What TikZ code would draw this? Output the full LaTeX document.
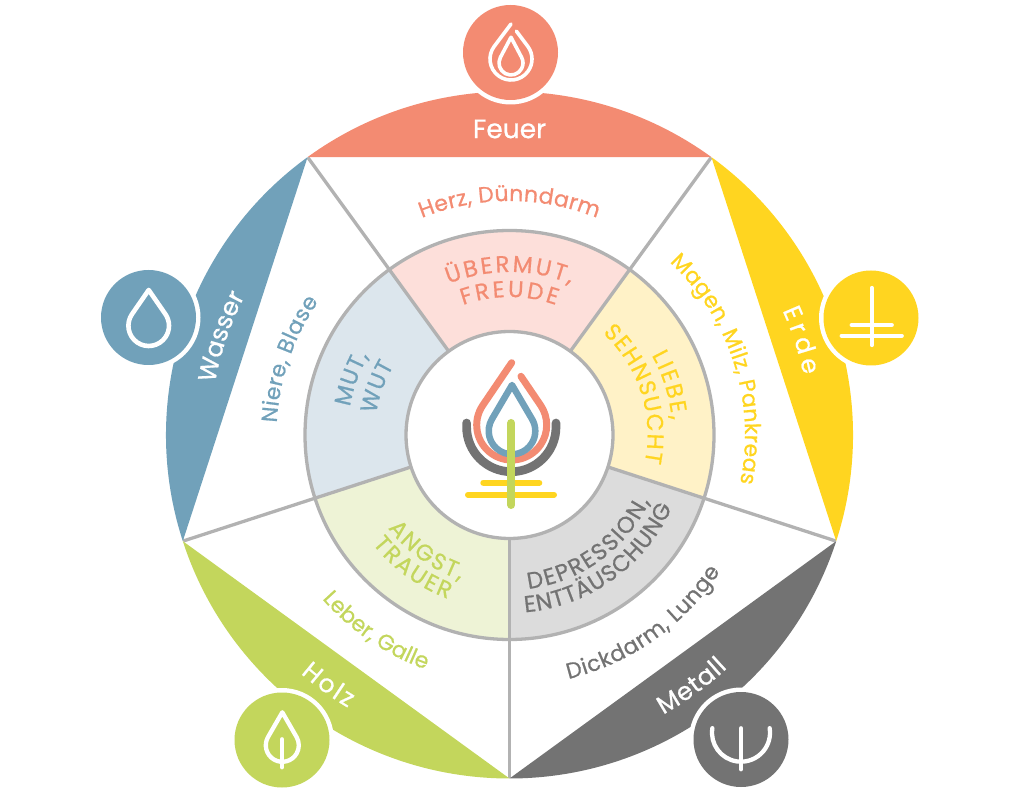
\documentclass[tikz,border=0pt]{standalone}
\usepackage{fontspec}
\setmainfont{Poppins}[FakeBold=0.7]
\usetikzlibrary{decorations.text,calc}
\definecolor{feuerc}{HTML}{F38B72}
\definecolor{erdec}{HTML}{FFD520}
\definecolor{metallc}{HTML}{737373}
\definecolor{holzc}{HTML}{C3D65C}
\definecolor{wasserc}{HTML}{71A1BA}
\definecolor{feuerl}{HTML}{FDDFDA}
\definecolor{erdel}{HTML}{FFF2C7}
\definecolor{metalll}{HTML}{DCDCDC}
\definecolor{holzl}{HTML}{EEF3D6}
\definecolor{wasserl}{HTML}{DCE6ED}
\definecolor{linec}{HTML}{B2B2B2}
% #1 colour, #2 size, #3 radius, #4 start, #5 end, #6 text
\newcommand{\arctext}[6]{%
  \path[decorate,decoration={text along path,text align=fit to path,
    text={|\fontsize{#2}{#2}\selectfont\color{#1}|#6}}]
    (#4:#3) arc[start angle=#4,end angle=#5,radius=#3];}
% #1 style, #2 cx, #3 cy(from top), #4 r, #5 d (tip distance)
\newcommand{\dropfull}[5]{%
  \pgfmathsetmacro\ph{acos(#4/#5)}%
  \begin{scope}[shift={(#2,793-#3)}]
  \draw[#1] (0,#5) -- (90+\ph:#4) arc[start angle=90+\ph,end angle=450-\ph,radius=#4] -- cycle;
  \end{scope}}
\newcommand{\dropopen}[5]{%
  \pgfmathsetmacro\ph{acos(#4/#5)}%
  \begin{scope}[shift={(#2,793-#3)}]
  \draw[#1] (0,#5) -- (90+\ph:#4) arc[start angle=90+\ph,end angle=450-\ph,radius=#4] -- ($(90-\ph:#4)!0.68!(0,#5)$);
  \end{scope}}
\tikzset{
  x=1pt,y=1pt,
  iconline/.style={draw=white,line width=4.3pt,line cap=round,line join=round},
  logoline/.style={line cap=round,line join=round},
  ringline/.style={draw=linec,line width=3.3pt},
  halo/.style={circle,fill=white,draw=none,minimum size=104pt,inner sep=0pt},
  badge/.style={circle,draw=none,minimum size=95pt,inner sep=0pt},
}
\begin{document}
\begin{tikzpicture}
\useasboundingbox (0,0) rectangle (1020,793);
\begin{scope}[shift={(509.5,358)}]
  % ring sectors
  \fill[feuerl] (0,0) -- (54:204.5) arc[start angle=54,end angle=126,radius=204.5] -- cycle;
  \fill[erdel] (0,0) -- (-18:204.5) arc[start angle=-18,end angle=54,radius=204.5] -- cycle;
  \fill[metalll] (0,0) -- (-90:204.5) arc[start angle=-90,end angle=-18,radius=204.5] -- cycle;
  \fill[holzl] (0,0) -- (198:204.5) arc[start angle=198,end angle=270,radius=204.5] -- cycle;
  \fill[wasserl] (0,0) -- (126:204.5) arc[start angle=126,end angle=198,radius=204.5] -- cycle;
  % spokes
  \foreach \a in {54,126,198,270,342} \draw[ringline] (\a:103) -- (\a:343);
  \draw[ringline] (0,0) circle[radius=204.5];
  \draw[ringline,fill=white] (0,0) circle[radius=103.5];
  % outer segments
  \fill[feuerc] (126:343.5) arc[start angle=126,end angle=54,radius=343.5] -- cycle;
  \fill[erdec] (54:343.5) arc[start angle=54,end angle=-18,radius=343.5] -- cycle;
  \fill[metallc] (-18:343.5) arc[start angle=-18,end angle=-90,radius=343.5] -- cycle;
  \fill[holzc] (-90:343.5) arc[start angle=-90,end angle=-162,radius=343.5] -- cycle;
  \fill[wasserc] (198:343.5) arc[start angle=198,end angle=126,radius=343.5] -- cycle;
\end{scope}
% badges
\node[halo] (hf) at (510.5,740.5) {};
\node[badge,fill=feuerc] (bf) at (510.5,740.5) {};
\node[halo] (he) at (871,475) {};
\node[badge,fill=erdec] (be) at (871,475) {};
\node[halo] (hm) at (741,53.5) {};
\node[badge,fill=metallc] (bm) at (741,53.5) {};
\node[halo] (hh) at (282,53) {};
\node[badge,fill=holzc] (bh) at (282,53) {};
\node[halo] (hw) at (148.5,475.5) {};
\node[badge,fill=wasserc] (bw) at (148.5,475.5) {};
% badge icons
\dropopen{iconline,line width=3.6pt}{511}{59}{21}{35}
\dropfull{iconline,line width=3.6pt}{511}{63}{12}{25.7}
\draw[iconline] (871.7,505) -- (871.7,448);
\draw[iconline] (851.7,468) -- (891.7,468);
\draw[iconline] (841.7,457.3) -- (901.7,457.3);
\draw[iconline] (741,64.7) -- (741,23.7);
\draw[iconline] (741,60.3) ++(171:29) arc[start angle=171,end angle=369,radius=29];
\dropfull{iconline}{282.3}{745.3}{16.5}{33}
\draw[iconline] (282,53.7) -- (282,25.7);
\dropfull{iconline,line width=4.6pt}{148.7}{325.7}{20.3}{35.7}
% logo
\draw[logoline,draw=metallc,line width=8.7pt] (466.6,370) -- (466.6,366) arc[start angle=180,end angle=360,radius=44.7] -- (556,370);
\dropopen{logoline,draw=feuerc,line width=7pt}{511.7}{425}{35}{62.3}
\dropfull{logoline,draw=wasserc,line width=6.5pt}{512}{431}{23.3}{46}
\draw[logoline,draw=erdec,line width=6pt] (483.3,310.3) -- (539.3,310.3);
\draw[logoline,draw=erdec,line width=6pt] (468,298.3) -- (554,298.3);
\draw[logoline,draw=holzc,line width=8pt] (511.3,370) -- (511.3,288);
% labels
\node[text=white,font=\fontsize{26.5}{26.5}\selectfont,inner sep=0pt] (feuerlabel) at (509.5,664) {Feuer};
\begin{scope}[shift={(509.5,358)}]
  \arctext{white}{25}{300}{24.5}{11.5}{Erde}
  \arctext{white}{25}{319}{-61.2}{-46.9}{Metall}
  \arctext{white}{25}{317}{-131.2}{-120.6}{Holz}
  \arctext{white}{25}{299}{170}{152.3}{Wasser}
  \arctext{feuerc}{22}{234}{112}{68}{Herz, Dünndarm}
  \arctext{erdec}{22}{235.5}{47.2}{-11.8}{Magen, Milz, Pankreas}
  \arctext{metallc}{22}{251}{-76.4}{-32.9}{Dickdarm, Lunge}
  \arctext{holzc}{22}{249}{-138.8}{-109.7}{Leber, Galle}
  \arctext{wasserc}{22}{233}{177}{145}{Niere, Blase}
  \arctext{feuerc}{23}{163}{112}{68}{ÜBERMUT,}
  \arctext{feuerc}{23}{138}{109.7}{70.3}{FREUDE}
  \arctext{erdec}{23}{163}{29.3}{5.2}{LIEBE,}
  \arctext{erdec}{23}{138}{47.6}{-11.6}{SEHNSUCHT}
  \arctext{metallc}{23}{155}{-83}{-25.4}{DEPRESSION,}
  \arctext{metallc}{23}{178}{-85}{-24}{ENTTÄUSCHUNG}
  \arctext{holzc}{23}{153}{-142.5}{-108.7}{ANGST,}
  \arctext{holzc}{23}{175}{-141.5}{-110.6}{TRAUER}
  \arctext{wasserc}{23}{162}{170}{150.7}{MUT,}
  \arctext{wasserc}{23}{135}{171}{149}{WUT}
\end{scope}
\end{tikzpicture}
\end{document}
